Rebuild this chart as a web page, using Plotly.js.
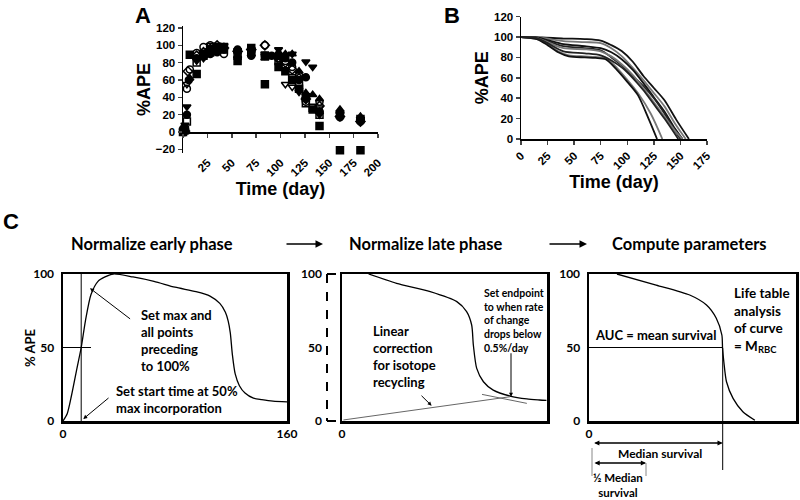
<!DOCTYPE html>
<html>
<head>
<meta charset="utf-8">
<script src="https://cdn.plot.ly/plotly-3.0.1.min.js"></script>
<style>html,body{margin:0;padding:0;background:#fff;}#chart{width:800px;height:500px;}</style>
</head>
<body>
<div id="chart"></div>
<script>
// ---------- Panel A: individual %APE measurements ----------
const aTicks = [25, 50, 75, 100, 125, 150, 175, 200];
const aYTicks = [-20, 0, 20, 40, 60, 80, 100, 120];
const aSqFilledDay = [0, 2, 7, 14, 21, 28, 35, 56, 70, 84, 98, 105, 112, 119, 126, 133, 140, 161, 182];
const aSqFilledApe = [0, 2, 89, 67, 90, 95, 97, 82, 97, 55, 75, 70, 60, 50, 40, 26, 7, -21, -21];
const aSqOpenDay = [1, 4, 14, 21, 28, 35, 42, 56, 70, 84, 98, 105, 112, 119, 126, 133, 140, 161, 182];
const aSqOpenApe = [2, 12, 80, 88, 92, 95, 95, 88, 92, 88, 82, 78, 62, 55, 33, 28, 20, 20, 15];
const aCirOpenDay = [1, 4, 7, 14, 21, 28, 35, 42, 56, 70, 84, 98, 105, 112, 119, 126, 140, 161, 182];
const aCirOpenApe = [5, 50, 72, 91, 98, 100, 98, 90, 93, 92, 100, 85, 82, 75, 65, 35, 35, 18, 14];
const aCirFilledDay = [0, 4, 6, 14, 21, 28, 35, 42, 56, 70, 84, 91, 98, 105, 112, 119, 126, 140, 161, 182];
const aCirFilledApe = [3, 20, 60, 85, 87, 90, 92, 95, 95, 88, 88, 88, 88, 85, 80, 60, 63, 24, 17, 12];
const aTriDownDay = [2, 4, 14, 21, 28, 35, 42, 56, 70, 84, 98, 105, 112, 119, 126, 133, 140, 161, 182];
const aTriDownApe = [8, 29, 82, 85, 97, 100, 100, 94, 95, 90, 95, 88, 90, 46, 81, 75, 20, 21, 13];
const aTriDownOpenDay = [1, 4, 14, 21, 28, 35, 42, 56, 70, 84, 98, 105, 112, 119, 126, 140, 161, 182];
const aTriDownOpenApe = [0, 55, 85, 92, 100, 100, 99, 90, 93, 88, 82, 55, 52, 48, 38, 28, 20, 15];
const aTriUpDay = [2, 7, 21, 28, 35, 56, 70, 84, 98, 105, 112, 119, 126, 133, 140, 161, 182];
const aTriUpApe = [5, 62, 88, 95, 96, 88, 90, 85, 92, 90, 90, 70, 45, 43, 38, 26, 18];
const aDiaOpenDay = [2, 5, 14, 21, 28, 35, 42, 56, 70, 84, 98, 105, 112, 119, 126, 140, 161, 182];
const aDiaOpenApe = [1, 70, 88, 92, 96, 100, 97, 93, 95, 100, 86, 80, 72, 62, 38, 30, 18, 12];

// ---------- Panel B: fitted survival curves ----------
const bTicks = [0, 25, 50, 75, 100, 125, 150, 175];
const bYTicks = [0, 20, 40, 60, 80, 100, 120];
const bDays1 = [0, 20, 40, 60, 75, 85, 95, 105, 115, 125, 135, 146, 158];
const bApe1  = [100, 99.5, 98.5, 98, 96.5, 92, 86, 76, 62, 50, 38, 19, 0];
const bDays2 = [0, 20, 40, 60, 75, 85, 95, 105, 115, 125, 135, 145, 155];
const bApe2  = [100, 99, 96, 95, 94, 89, 81, 70, 58, 45, 32, 15, 0];
const bDays3 = [0, 15, 25, 40, 60, 75, 85, 95, 105, 115, 125, 135, 145, 152];
const bApe3  = [100, 99.5, 97, 93, 91, 89, 85, 78, 68, 55, 41, 27, 10, 0];
const bDays4 = [0, 15, 25, 40, 60, 75, 85, 95, 105, 115, 125, 135, 145, 150];
const bApe4  = [100, 99, 96, 91, 89, 87, 80, 72, 62, 52, 40, 25, 8, 0];
const bDays5 = [0, 15, 25, 40, 60, 75, 85, 95, 105, 115, 125, 135, 145, 152];
const bApe5  = [100, 99, 95, 89, 88, 86, 81, 73, 63, 50, 36, 22, 8, 0];
const bDays6 = [0, 15, 25, 35, 45, 60, 70, 80, 90, 100, 110, 122, 133];
const bApe6  = [100, 98, 93, 86, 82, 81, 80.5, 79, 70, 58, 45, 25, 0];
const bDays7 = [0, 15, 25, 35, 45, 60, 70, 80, 90, 100, 110, 120, 128];
const bApe7  = [100, 98, 92, 85, 81, 80, 79.5, 78, 68, 56, 43, 20, 0];
const bDays8 = [0, 15, 25, 40, 60, 75, 85, 95, 105, 115, 125, 135, 148];
const bApe8  = [100, 99, 94, 86, 84, 82, 77, 70, 60, 48, 34, 20, 0];
const bColors = ['#111', '#777', '#111', '#222', '#777', '#777', '#111', '#222'];

// ---------- Panel C: schematic curves ----------
const c1Days = [0, 3, 6, 10, 13, 16, 20, 25, 30, 36, 50, 65, 80, 95, 105, 112, 116, 118, 119.5, 121, 123, 126, 130, 136, 142, 150, 160];
const c1Ape  = [0, 5, 17, 36, 50, 68, 86, 95, 98, 100, 98, 95, 91, 88, 85, 80, 74, 68, 60, 45, 32, 24, 19, 15.5, 14.5, 13.5, 13];
const c1StartDay = 13;
const c1HalfMax = 50;
const c2Days = [19, 39, 63, 82, 89, 92.6, 93.8, 96.2, 101, 108, 120, 132, 141, 146];
const c2Ape  = [100, 93.7, 88, 81.2, 74.4, 65.3, 51.7, 35.8, 26.7, 21, 17, 15, 14.3, 14];
const c2RecycleDays = [1, 120];
const c2RecycleApe  = [0.7, 16.5];
const c2TangentDays = [100, 132];
const c2TangentApe  = [18.1, 12];
const c3Days = [20, 48, 72, 84, 91, 95, 95.5, 96.4, 98.3, 103, 110, 118.6];
const c3Ape  = [100, 92.5, 85.7, 78.9, 69.9, 58.5, 49.4, 40.3, 26.7, 15.4, 6.3, 0.5];
const c3MedianDay = 95.5;

const FA = 'Liberation Sans, Arial, sans-serif';
const FC = 'Lato, Open Sans, sans-serif';

const traces = [];
function addScatter(x, y, sym) {
  traces.push({x: x, y: y, xaxis: 'x', yaxis: 'y', type: 'scatter', mode: 'markers',
    marker: {symbol: sym, size: 7, color: '#000', line: {color: '#000', width: 1.5}},
    cliponaxis: false, showlegend: false, hoverinfo: 'skip'});
}
addScatter(aSqFilledDay, aSqFilledApe, 'square');
addScatter(aSqOpenDay, aSqOpenApe, 'square-open');
addScatter(aCirOpenDay, aCirOpenApe, 'circle-open');
addScatter(aCirFilledDay, aCirFilledApe, 'circle');
addScatter(aTriDownDay, aTriDownApe, 'triangle-down');
addScatter(aTriDownOpenDay, aTriDownOpenApe, 'triangle-down-open');
addScatter(aTriUpDay, aTriUpApe, 'triangle-up');
addScatter(aDiaOpenDay, aDiaOpenApe, 'diamond-open');
// carrier for the overlay x axis of panel A (drawn at y = 0)
traces.push({x: [], y: [], xaxis: 'x2', yaxis: 'y', type: 'scatter', showlegend: false});

const bDays = [bDays1, bDays2, bDays3, bDays4, bDays5, bDays6, bDays7, bDays8];
const bApe = [bApe1, bApe2, bApe3, bApe4, bApe5, bApe6, bApe7, bApe8];
bDays.forEach(function (d, i) {
  traces.push({x: d, y: bApe[i], xaxis: 'x3', yaxis: 'y3', type: 'scatter', mode: 'lines',
    line: {color: bColors[i], width: 1.8, shape: 'spline', smoothing: 0.8}, showlegend: false, hoverinfo: 'skip'});
});

function line(x, y, xa, ya, color, width, shape) {
  traces.push({x: x, y: y, xaxis: xa, yaxis: ya, type: 'scatter', mode: 'lines',
    line: {color: color, width: width, shape: shape || 'linear', smoothing: 0.7}, showlegend: false, hoverinfo: 'skip'});
}
// box 1
line(c1Days, c1Ape, 'x4', 'y4', '#000', 1.3, 'spline');
line([c1StartDay, c1StartDay], [0, 100], 'x4', 'y4', '#000', 1);
line([-1, 20], [c1HalfMax, c1HalfMax], 'x4', 'y4', '#000', 1);
// box 2
line(c2Days, c2Ape, 'x5', 'y5', '#000', 1.3, 'spline');
line(c2RecycleDays, c2RecycleApe, 'x5', 'y5', '#666', 1);
line(c2TangentDays, c2TangentApe, 'x5', 'y5', '#666', 1);
traces.push({x: [], y: [], xaxis: 'x5', yaxis: 'y6', type: 'scatter', showlegend: false});
// box 3
line(c3Days, c3Ape, 'x7', 'y7', '#000', 1.3, 'spline');
line([0, c3MedianDay], [50, 50], 'x7', 'y7', '#000', 1);

const W = 800, H = 500;
const px = v => v / W, py = v => 1 - v / H;

const tickA = {family: FA, size: 11.5, color: '#000', weight: 700};
const titleA = {family: FA, size: 18, color: '#000', weight: 700};
const tickC = {family: FC, size: 12, color: '#000', weight: 700};

const boxX = {showline: true, mirror: true, linewidth: 2.5, linecolor: '#000', ticks: '', showgrid: false, zeroline: false, tickfont: tickC, fixedrange: true};
const boxY = Object.assign({}, boxX, {range: [0, 100], tickvals: [0, 50, 100], ticklabelstandoff: 4});

const layout = {
  width: W, height: H, margin: {l: 0, r: 0, t: 0, b: 0}, paper_bgcolor: '#fff', plot_bgcolor: 'rgba(0,0,0,0)',
  showlegend: false,
  xaxis: {domain: [px(183), px(378)], anchor: 'y', range: [0, 200], tickvals: aTicks, tickangle: -45,
    showline: false, ticks: '', showgrid: false, zeroline: false, tickfont: tickA,
    title: {text: 'Time (day)', font: titleA, standoff: 0}},
  xaxis2: {overlaying: 'x', anchor: 'free', position: py(132), range: [0, 200], tickvals: [0].concat(aTicks),
    showticklabels: false, ticks: 'outside', ticklen: 4, tickwidth: 1.5, showline: true, linewidth: 1.5, linecolor: '#000',
    showgrid: false, zeroline: false},
  yaxis: {domain: [py(152.8), py(26.2)], anchor: 'x', range: [-24, 122], tickvals: aYTicks,
    showline: true, linewidth: 1.5, linecolor: '#000', ticks: 'outside', ticklen: 4, tickwidth: 1.5,
    showgrid: false, zeroline: false, tickfont: tickA, title: {text: '%APE', font: titleA, standoff: 0}},
  xaxis3: {domain: [px(521), px(707)], anchor: 'y3', range: [0, 175], tickvals: bTicks, tickangle: -45,
    showline: true, linewidth: 1.5, linecolor: '#000', ticks: 'outside', ticklen: 4, tickwidth: 1.5,
    showgrid: false, zeroline: false, tickfont: tickA, title: {text: 'Time (day)', font: titleA, standoff: 0}},
  yaxis3: {domain: [py(139), py(16.6)], anchor: 'x3', range: [0, 120], tickvals: bYTicks,
    showline: true, linewidth: 1.5, linecolor: '#000', ticks: 'outside', ticklen: 4, tickwidth: 1.5,
    showgrid: false, zeroline: false, tickfont: tickA, title: {text: '%APE', font: titleA, standoff: 0}},
  xaxis4: Object.assign({}, boxX, {domain: [px(63), px(287)], anchor: 'y4', range: [0, 160], tickvals: [0, 160]}),
  yaxis4: Object.assign({}, boxY, {domain: [py(421), py(274)], anchor: 'x4'}),
  xaxis5: Object.assign({}, boxX, {domain: [px(342), px(547)], anchor: 'y5', range: [0, 146.4], tickvals: [0]}),
  yaxis5: Object.assign({}, boxY, {domain: [py(421), py(274)], anchor: 'x5', showticklabels: false}),
  yaxis6: {overlaying: 'y5', anchor: 'free', position: px(327), range: [0, 100], tickvals: [0, 50, 100],
    showline: false, ticks: '', showgrid: false, zeroline: false, tickfont: tickC, ticklabelstandoff: 5},
  xaxis7: Object.assign({}, boxX, {domain: [px(589), px(796)], anchor: 'y7', range: [0, 148], tickvals: [0]}),
  yaxis7: Object.assign({}, boxY, {domain: [py(421), py(274)], anchor: 'x7'}),
  shapes: [
    // dashed bracket of box 2 (original axis before correction)
    {type: 'line', xref: 'paper', yref: 'paper', x0: px(327), x1: px(327), y0: py(274), y1: py(421), line: {color: '#000', width: 2, dash: 'dash'}},
    {type: 'line', xref: 'paper', yref: 'paper', x0: px(327), x1: px(342), y0: py(274), y1: py(274), line: {color: '#000', width: 2, dash: 'dash'}},
    {type: 'line', xref: 'paper', yref: 'paper', x0: px(327), x1: px(342), y0: py(421), y1: py(421), line: {color: '#000', width: 2, dash: 'dash'}},
    // median line extending below box 3
    {type: 'line', xref: 'paper', yref: 'paper', x0: px(589 + c3MedianDay * 1.4), x1: px(589 + c3MedianDay * 1.4), y0: py(348), y1: py(470), line: {color: '#000', width: 1}},
    {type: 'line', xref: 'paper', yref: 'paper', x0: px(592), x1: px(592), y0: py(448), y1: py(476), line: {color: '#888', width: 1}},
    {type: 'line', xref: 'paper', yref: 'paper', x0: px(646), x1: px(646), y0: py(463), y1: py(476), line: {color: '#888', width: 1}}
  ],
  annotations: []
};

const ann = layout.annotations;
function txt(text, x, y, size, opts) {
  ann.push(Object.assign({text: text, x: x, y: y, xref: 'paper', yref: 'paper', showarrow: false,
    xanchor: 'center', yanchor: 'middle', font: {family: FC, size: size, color: '#000', weight: 700}}, opts || {}));
}
// panel letters
txt('A', px(143), py(15), 22, {font: {family: FA, size: 22, color: '#000', weight: 700}});
txt('B', px(452), py(15), 22, {font: {family: FA, size: 22, color: '#000', weight: 700}});
txt('C', px(11), py(222), 22, {font: {family: FA, size: 22, color: '#000', weight: 700}});
// y title of box 1
txt('% APE', px(30), py(348), 13, {textangle: -90});
// section titles
txt('Normalize early phase', px(152), py(244), 16.5);
txt('Normalize late phase', px(425), py(244), 16.5);
txt('Compute parameters', px(689), py(244), 16.5);
// arrows between titles
ann.push({text: '', x: px(323), y: py(244), xref: 'paper', yref: 'paper', showarrow: true, ax: -38, ay: 0,
  arrowhead: 2, arrowsize: 1, arrowwidth: 1.5, arrowcolor: '#000'});
ann.push({text: '', x: px(587), y: py(244), xref: 'paper', yref: 'paper', showarrow: true, ax: -39, ay: 0,
  arrowhead: 2, arrowsize: 1, arrowwidth: 1.5, arrowcolor: '#000'});
// box 1 notes
txt('Set max and<br>all points<br>preceding<br>to 100%', px(139), py(340), 13, {xanchor: 'left', align: 'left'});
txt('Set start time at 50%<br>max incorporation', px(114), py(399), 13, {xanchor: 'left', align: 'left'});
ann.push({text: '', x: 19.3, y: 90.3, xref: 'x4', yref: 'y4', ax: 49, ay: 68.7, axref: 'x4', ayref: 'y4',
  showarrow: true, arrowhead: 2, arrowsize: 0.8, arrowwidth: 1, arrowcolor: '#000'});
ann.push({text: '', x: 14.5, y: 1.4, xref: 'x4', yref: 'y4', ax: 33.6, ay: 16.5, axref: 'x4', ayref: 'y4',
  showarrow: true, arrowhead: 2, arrowsize: 0.8, arrowwidth: 1, arrowcolor: '#000'});
// box 2 notes
txt('Linear<br>correction<br>for isotope<br>recycling', px(371), py(356), 13, {xanchor: 'left', align: 'left'});
txt('Set endpoint<br>to when rate<br>of change<br>drops below<br>0.5%/day', px(482), py(320.5), 10.5, {xanchor: 'left', align: 'left'});
ann.push({text: '', x: 64, y: 10.4, xref: 'x5', yref: 'y5', ax: 55.7, ay: 18.2, axref: 'x5', ayref: 'y5',
  showarrow: true, arrowhead: 2, arrowsize: 0.8, arrowwidth: 1, arrowcolor: '#000'});
ann.push({text: '', x: 120.7, y: 16.5, xref: 'x5', yref: 'y5', ax: 120.7, ay: 47.1, axref: 'x5', ayref: 'y5',
  showarrow: true, arrowhead: 2, arrowsize: 0.8, arrowwidth: 1, arrowcolor: '#000'});
// box 3 notes
txt('AUC = mean survival', px(655), py(335), 13);
txt('Life table<br>analysis<br>of curve<br>= M<sub>RBC</sub>', px(732), py(319.5), 13.5, {xanchor: 'left', align: 'left'});
ann.push({text: '', x: px(589 + c3MedianDay * 1.4), y: py(443), xref: 'paper', yref: 'paper', ax: -130, ay: 0,
  showarrow: true, arrowside: 'end+start', arrowhead: 2, arrowsize: 0.8, arrowwidth: 1.3, arrowcolor: '#000'});
txt('Median survival', px(660), py(453), 12);
ann.push({text: '', x: px(646), y: py(463), xref: 'paper', yref: 'paper', ax: -53, ay: 0,
  showarrow: true, arrowside: 'end+start', arrowhead: 2, arrowsize: 0.8, arrowwidth: 1.3, arrowcolor: '#000'});
txt('½ Median<br>survival', px(618), py(485), 11.5);

Plotly.newPlot('chart', traces, layout, {staticPlot: true});
</script>
</body>
</html>
